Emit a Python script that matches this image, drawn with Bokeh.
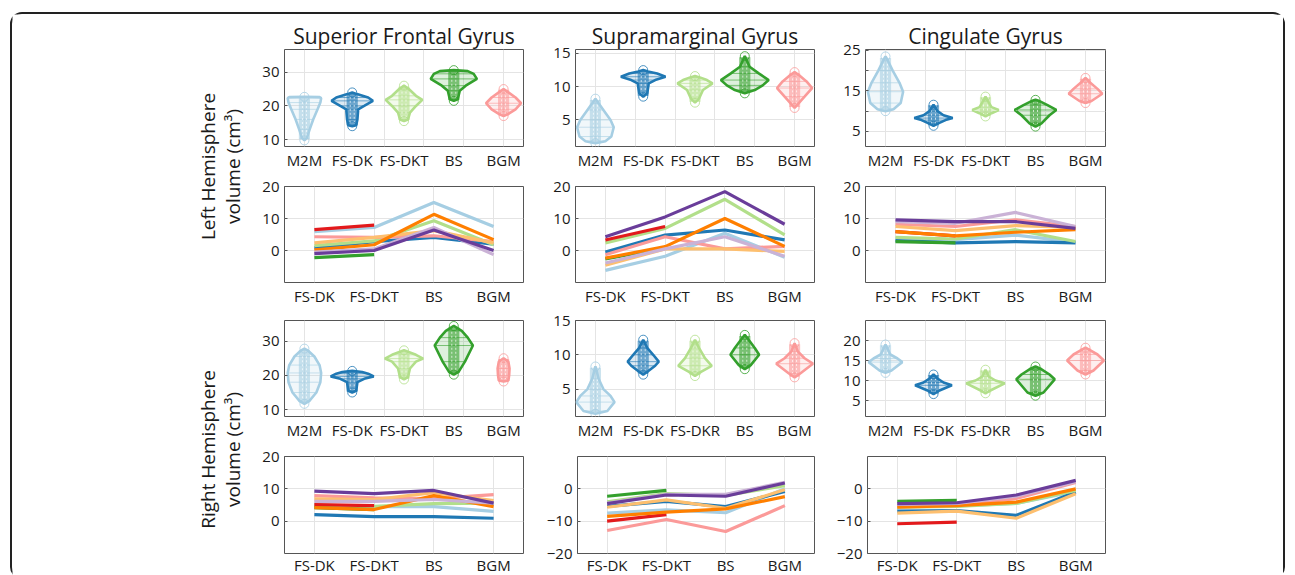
import numpy as np
from bokeh.plotting import figure
from bokeh.layouts import row, column
from bokeh.models import Range1d, FixedTicker, GlobalInlineStyleSheet
from bokeh.core.properties import value
from bokeh.embed import file_html
from bokeh.resources import INLINE

FONT = "Open Sans"
nan = float("nan")

# ---------------- categories / labels ----------------
REGIONS = ["Superior Frontal Gyrus", "Supramarginal Gyrus", "Cingulate Gyrus"]
VIOLIN_CATS_LEFT = ["M2M", "FS-DK", "FS-DKT", "BS", "BGM"]
VIOLIN_CATS_RIGHT = [["M2M", "FS-DK", "FS-DKT", "BS", "BGM"],
                     ["M2M", "FS-DK", "FS-DKR", "BS", "BGM"],
                     ["M2M", "FS-DK", "FS-DKR", "BS", "BGM"]]
VIOLIN_POS = [1, 2.2, 3.5, 4.75, 6]
LINE_CATS = ["FS-DK", "FS-DKT", "BS", "BGM"]
LINE_X = [1, 2, 3, 4]

VIOLIN_COLORS = ["#a6cee3", "#1f78b4", "#b2df8a", "#33a02c", "#fb9a99"]
SERIES_COLORS = ["#a6cee3", "#1f78b4", "#b2df8a", "#33a02c", "#fb9a99",
                 "#e31a1c", "#fdbf6f", "#ff7f00", "#cab2d6", "#6a3d9a"]

# ---------------- violin profiles (volume cm3, half-width) ----------------
L_SFG_Y = [[9.8, 10.5, 13, 16, 19, 21, 22.3, 22.6, 22.7],
           [14, 14.3, 16, 19, 20, 21.5, 22.5, 23.5, 24],
           [15.5, 16, 18, 20, 21.8, 23, 25, 26],
           [21.5, 22, 24.5, 26, 28, 29.5, 30.3, 30.6],
           [17, 17.5, 19, 20.8, 22.5, 24, 25]]
L_SFG_W = [[0, 0.06, 0.13, 0.22, 0.33, 0.40, 0.42, 0.38, 0],
           [0, 0.1, 0.13, 0.15, 0.3, 0.52, 0.4, 0.12, 0],
           [0, 0.1, 0.15, 0.3, 0.46, 0.3, 0.12, 0],
           [0, 0.1, 0.15, 0.3, 0.58, 0.5, 0.35, 0],
           [0, 0.1, 0.3, 0.44, 0.3, 0.12, 0]]

L_SMG_Y = [[1.5, 1.8, 2.5, 3.9, 5, 6.5, 7.5, 8.2],
           [8.5, 9, 10.5, 11, 11.5, 12, 12.3, 12.5],
           [7.6, 8.2, 9.5, 10.5, 11, 11.4, 11.6],
           [9, 9.5, 10.2, 11, 12, 13, 14.6],
           [6.8, 7.5, 8.5, 9.8, 10.8, 11.8, 12.2]]
L_SMG_W = [[0, 0.25, 0.4, 0.46, 0.38, 0.2, 0.08, 0],
           [0, 0.1, 0.14, 0.3, 0.56, 0.35, 0.12, 0],
           [0, 0.1, 0.2, 0.44, 0.3, 0.12, 0],
           [0, 0.25, 0.45, 0.6, 0.35, 0.12, 0],
           [0, 0.1, 0.25, 0.44, 0.3, 0.1, 0]]

L_CG_Y = [[10, 10.5, 12, 14.8, 17, 20, 23, 23.5],
          [6.4, 7, 7.8, 8.3, 9, 10, 11.6],
          [8.7, 9.5, 10.3, 11, 12.5, 13.6],
          [6.2, 7, 9, 10.3, 11.5, 12.5, 12.8],
          [12, 12.5, 14.3, 15.5, 17, 18.2]]
L_CG_W = [[0, 0.2, 0.38, 0.44, 0.35, 0.18, 0.03, 0],
          [0, 0.12, 0.3, 0.48, 0.25, 0.1, 0],
          [0, 0.15, 0.33, 0.15, 0.06, 0],
          [0, 0.15, 0.35, 0.52, 0.3, 0.1, 0],
          [0, 0.15, 0.42, 0.3, 0.12, 0]]

R_SFG_Y = [[11.7, 12.5, 15, 18, 20.7, 23, 25.5, 27.3, 27.8],
           [15, 15.5, 18, 19, 19.7, 20.5, 21, 21.3],
           [18.8, 19.5, 22, 24, 24.9, 26, 27.3],
           [20.2, 21, 24, 28.7, 31, 33, 34.4],
           [18.2, 18.5, 20, 22, 24, 25]]
R_SFG_W = [[0, 0.12, 0.3, 0.4, 0.42, 0.38, 0.25, 0.08, 0],
           [0, 0.1, 0.13, 0.3, 0.54, 0.4, 0.25, 0],
           [0, 0.1, 0.15, 0.3, 0.48, 0.3, 0],
           [0, 0.12, 0.28, 0.48, 0.35, 0.2, 0],
           [0, 0.12, 0.14, 0.15, 0.12, 0]]

R_SMG_Y = [[1.4, 1.8, 3.1, 4, 5, 6.5, 8.3],
           [7.1, 7.6, 8.4, 9, 10, 11, 12.2],
           [6.9, 7.5, 8.4, 9.5, 11, 12.2],
           [7.9, 8.5, 10, 11, 12, 12.9],
           [6.7, 7.3, 8.7, 9.5, 10.5, 11.7]]
R_SMG_W = [[0, 0.3, 0.48, 0.38, 0.2, 0.08, 0],
           [0, 0.12, 0.3, 0.39, 0.25, 0.1, 0],
           [0, 0.15, 0.42, 0.25, 0.1, 0],
           [0, 0.15, 0.36, 0.25, 0.12, 0],
           [0, 0.15, 0.46, 0.25, 0.08, 0]]

R_CG_Y = [[11.9, 12.5, 14.6, 15.5, 16.5, 19],
          [6.6, 7.5, 8.8, 9.5, 10.5, 11.5],
          [6.8, 7.5, 9.3, 10, 11, 12.7],
          [6.2, 7, 10.3, 11.5, 12.8, 13.5],
          [11.5, 12.5, 15, 16.5, 18.2]]
R_CG_W = [[0, 0.15, 0.42, 0.3, 0.12, 0],
          [0, 0.15, 0.46, 0.25, 0.1, 0],
          [0, 0.12, 0.48, 0.25, 0.08, 0],
          [0, 0.2, 0.48, 0.35, 0.15, 0],
          [0, 0.2, 0.46, 0.3, 0]]

# ---------------- line data (one list per series, values at LINE_CATS) ----------------
L_SFG_LINES = [[5.9, 7.2, 15.0, 7.5], [0.8, 2.8, 4.1, 2.0], [1.5, 3.0, 9.3, 1.8],
               [-2.2, -1.3, nan, nan], [4.3, 4.1, 4.6, 2.8], [6.5, 7.9, nan, nan],
               [2.4, 4.1, 6.2, 2.4], [0.2, 1.8, 11.3, 3.4], [-0.5, 0.5, 7.2, -1.3],
               [-1.0, 0.0, 6.4, 0.0]]
L_SMG_LINES = [[-6.2, -1.8, 5.4, -2.1], [-0.5, 4.8, 6.4, 3.3], [2.4, 6.9, 16.0, 4.9],
               [-2.6, 0.8, nan, nan], [-1.3, 4.3, 0.5, 1.3], [3.3, 7.5, nan, nan],
               [-4.6, 0.5, 0.5, -0.3], [-2.4, 1.2, 10.0, 1.3], [-3.9, 0.5, 4.3, -1.8],
               [4.3, 10.5, 18.4, 8.2]]
L_CG_LINES = [[3.8, 3.4, 4.8, 2.6], [3.1, 2.4, 2.8, 2.4], [4.1, 3.6, 6.5, 2.8],
              [2.8, 2.4, nan, nan], [8.2, 7.5, 9.6, 7.5], [5.9, 4.6, nan, nan],
              [7.5, 6.2, 7.8, 7.2], [5.9, 4.6, 5.7, 6.5], [9.0, 8.5, 11.9, 7.5],
              [9.6, 9.0, 9.0, 6.9]]
R_SFG_LINES = [[4.8, 4.5, 4.5, 3.0], [2.0, 1.4, 1.4, 0.9], [5.0, 4.6, 5.4, 5.6],
               [4.2, 3.6, nan, nan], [7.9, 7.2, 7.0, 8.2], [5.1, 4.8, nan, nan],
               [6.9, 6.7, 8.8, 6.4], [4.2, 3.6, 7.9, 4.5], [6.1, 6.1, 6.7, 5.6],
               [9.3, 8.5, 9.5, 5.6]]
R_SMG_LINES = [[-7.5, -6.5, -7.4, 0.0], [-5.4, -3.9, -5.5, -0.8], [-4.0, -1.5, -2.0, 1.0],
               [-2.3, -0.5, nan, nan], [-12.9, -9.5, -13.2, -5.2], [-10.0, -8.0, nan, nan],
               [-5.7, -3.4, -6.0, -0.3], [-8.5, -7.2, -6.2, -2.4], [-4.4, -1.7, -1.7, 2.0],
               [-4.6, -1.9, -2.3, 1.8]]
R_CG_LINES = [[-5.5, -5.3, -4.5, -0.8], [-6.9, -6.7, -8.2, -1.0], [-5.7, -5.4, -4.5, -0.5],
              [-3.9, -3.6, nan, nan], [-5.0, -4.8, -3.0, 2.0], [-10.8, -10.3, nan, nan],
              [-7.5, -6.9, -9.1, -1.5], [-5.7, -5.2, -4.1, 0.0], [-4.8, -4.5, -2.3, 2.2],
              [-4.6, -4.3, -1.9, 2.6]]

# ---------------- axis ranges / ticks ----------------
ROW1_YRANGE = [(8, 36.7), (1, 15.6), (1.3, 25.2)]
ROW1_YTICKS = [[10, 20, 30], [5, 10, 15], [5, 10, 15, 20, 25]]
ROW1_YHIDE = [[], [], [10, 20]]
ROW3_YRANGE = [(8, 36), (1, 15), (1, 25)]
ROW3_YTICKS = [[10, 20, 30], [5, 10, 15], [5, 10, 15, 20]]
ROW2_YRANGE = [(-10, 20), (-10, 20), (-10, 20)]
ROW2_YTICKS = [[0, 10, 20], [0, 10, 20], [0, 10, 20]]
ROW4_YRANGE = [(-10, 20), (-20, 10), (-20, 10)]
ROW4_YTICKS = [[0, 10, 20], [-20, -10, 0], [-20, -10, 0]]

# ---------------- layout geometry ----------------
COL_W = [293, 290, 450]
COL_BL = [34, 32, 32]
COL_BR = [20, 19, 178]
ROW_H = [158, 136, 134, 135]
ROW_BT = [35, 14, 12, 14]
ROW_BB = [24, 24, 24, 24]
ROW_STANDOFF = [3, 3, 3, 1]
LABEL_W = 238


def make_fig(ci, ri, xr, yr, title=None):
    p = figure(width=COL_W[ci], height=ROW_H[ri], x_range=Range1d(*xr), y_range=Range1d(*yr),
               toolbar_location=None, output_backend="svg", title=title,
               min_border_left=COL_BL[ci], min_border_right=COL_BR[ci],
               min_border_top=ROW_BT[ri], min_border_bottom=ROW_BB[ri])
    p.outline_line_color = "#555555"
    p.outline_line_width = 1
    p.background_fill_color = "white"
    p.border_fill_color = "white"
    p.grid.grid_line_color = "#e4e4e4"
    p.grid.grid_line_width = 1
    for ax in (p.xaxis[0], p.yaxis[0]):
        ax.axis_line_color = None
        ax.major_tick_out = 0
        ax.minor_tick_line_color = None
        ax.major_label_text_font = FONT
        ax.major_label_text_font_size = "15px"
        ax.major_label_text_color = "#1a1a1a"
    p.xaxis.major_tick_line_color = None
    p.xaxis.major_label_standoff = ROW_STANDOFF[ri]
    p.yaxis.major_tick_in = 3
    p.yaxis.major_tick_line_color = "#555555"
    p.yaxis.major_label_standoff = 5
    if title is not None:
        p.title.align = "center"
        p.title.text_font = FONT
        p.title.text_font_size = "21px"
        p.title.text_font_style = "normal"
        p.title.text_color = "#1a1a1a"
        p.title.standoff = 0
    return p


def set_yticks(p, ticks, hide=()):
    p.yaxis.ticker = FixedTicker(ticks=ticks)
    p.ygrid.ticker = FixedTicker(ticks=ticks)
    if hide:
        p.yaxis.major_label_overrides = {t: "" for t in hide}


def violin_fig(ci, ri, ys_list, ws_list, cats, yr, yticks, hide=(), title=None):
    p = make_fig(ci, ri, (0.5, 6.5), yr, title)
    p.xaxis.ticker = FixedTicker(ticks=VIOLIN_POS)
    p.xaxis.major_label_overrides = {pos: c for pos, c in zip(VIOLIN_POS, cats)}
    p.xgrid.ticker = FixedTicker(ticks=[1, 2, 3, 4, 5, 6])
    set_yticks(p, yticks, hide)
    for pos, ys, ws, col in zip(VIOLIN_POS, ys_list, ws_list, VIOLIN_COLORS):
        ys = np.asarray(ys, float)
        ws = np.asarray(ws, float)
        xs = np.concatenate([pos - ws, (pos + ws)[::-1]])
        yy = np.concatenate([ys, ys[::-1]])
        p.patch(xs, yy, fill_color=col, fill_alpha=0.16, line_color=None)
        # hatch-like horizontal lines
        p.segment(x0=pos - ws, y0=ys, x1=pos + ws, y1=ys, line_color=col,
                  line_width=1, line_alpha=0.6)
        lo, hi = ys[0], ys[-1]
        span = hi - lo
        p.quad(left=[pos - 0.14], right=[pos + 0.14], bottom=[lo + 0.03 * span],
               top=[hi - 0.03 * span], fill_color=col, fill_alpha=0.6, line_color=None)
        p.segment(x0=[pos - 0.05, pos + 0.05], y0=[lo + 0.1 * span] * 2,
                  x1=[pos - 0.05, pos + 0.05], y1=[hi - 0.1 * span] * 2,
                  line_color="white", line_width=1, line_dash="2 2", line_alpha=0.7)
        p.patch(xs, yy, fill_color=None, line_color=col, line_width=2.6)
        p.scatter([pos, pos], [lo, hi], marker="circle", size=9, fill_color=None,
                  line_color=col, line_alpha=0.8)
    return p


def line_fig(ci, ri, series, yr, yticks):
    p = make_fig(ci, ri, (0.5, 4.5), yr)
    p.xaxis.ticker = FixedTicker(ticks=LINE_X)
    p.xaxis.major_label_overrides = {x: c for x, c in zip(LINE_X, LINE_CATS)}
    p.xgrid.ticker = FixedTicker(ticks=LINE_X)
    set_yticks(p, yticks)
    for col, vals in zip(SERIES_COLORS, series):
        p.line(LINE_X, vals, line_color=col, line_width=3.2)
    return p


def label_fig(h, y_center, lines):
    p = figure(width=LABEL_W, height=h, x_range=Range1d(0, LABEL_W), y_range=Range1d(0, h),
               toolbar_location=None, output_backend="svg", min_border=0,
               x_axis_location=None, y_axis_location=None, title=None)
    p.grid.visible = False
    p.outline_line_color = None
    p.border_fill_color = "white"
    p.text(x=[195, 220], y=[y_center, y_center], text=lines, angle=np.pi / 2,
           text_align="center", text_baseline="middle", text_font=value(FONT),
           text_font_size="19px", text_color="#1a1a1a")
    return p


LV_Y = [L_SFG_Y, L_SMG_Y, L_CG_Y]
LV_W = [L_SFG_W, L_SMG_W, L_CG_W]
RV_Y = [R_SFG_Y, R_SMG_Y, R_CG_Y]
RV_W = [R_SFG_W, R_SMG_W, R_CG_W]
L_LINES = [L_SFG_LINES, L_SMG_LINES, L_CG_LINES]
R_LINES = [R_SFG_LINES, R_SMG_LINES, R_CG_LINES]

row1 = [violin_fig(i, 0, LV_Y[i], LV_W[i], VIOLIN_CATS_LEFT, ROW1_YRANGE[i], ROW1_YTICKS[i],
                   ROW1_YHIDE[i], REGIONS[i]) for i in range(3)]
row2 = [line_fig(i, 1, L_LINES[i], ROW2_YRANGE[i], ROW2_YTICKS[i]) for i in range(3)]
row3 = [violin_fig(i, 2, RV_Y[i], RV_W[i], VIOLIN_CATS_RIGHT[i], ROW3_YRANGE[i], ROW3_YTICKS[i])
        for i in range(3)]
row4 = [line_fig(i, 3, R_LINES[i], ROW4_YRANGE[i], ROW4_YTICKS[i]) for i in range(3)]

lab_left = label_fig(ROW_H[0] + ROW_H[1], 142, ["Left Hemisphere", "volume (cm³)"])
lab_right = label_fig(ROW_H[2] + ROW_H[3], 128, ["Right Hemisphere", "volume (cm³)"])

top_block = row(lab_left, column(row(*row1), row(*row2)))
bot_block = row(lab_right, column(row(*row3), row(*row4)))
outer = column(top_block, bot_block, margin=(12, 0, 0, 10),
               styles={"border": "2px solid #222222", "border-radius": "12px",
                       "background-color": "white"},
               stylesheets=[GlobalInlineStyleSheet(css="html, body { overflow: hidden; }")])

open("out.html", "w").write(file_html(outer, INLINE))
